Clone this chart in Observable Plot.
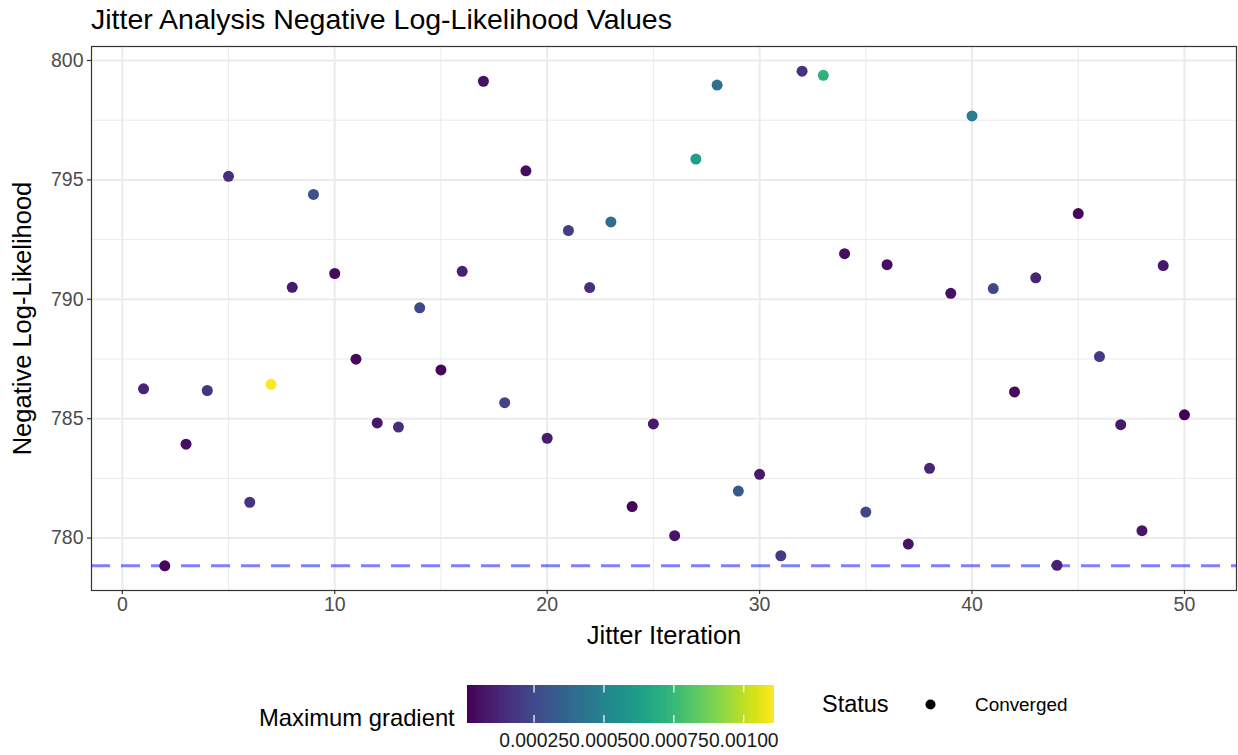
<!DOCTYPE html>
<html>
<head>
<meta charset="utf-8">
<script src="https://cdn.jsdelivr.net/npm/d3@7"></script>
<script src="https://cdn.jsdelivr.net/npm/@observablehq/plot@0.6"></script>
<style>
  body { margin: 0; background: #fff; font-family: "Liberation Sans", Arial, sans-serif; }
  #wrap { position: relative; width: 1238px; height: 755px; overflow: hidden; }
  .abs { position: absolute; white-space: nowrap; line-height: normal; }
</style>
</head>
<body>
<div id="wrap"></div>
<script>
const iteration = [1,2,3,4,5,6,7,8,9,10,11,12,13,14,15,16,17,18,19,20,21,22,23,24,25,26,27,28,29,30,31,32,33,34,35,36,37,38,39,40,41,42,43,44,45,46,47,48,49,50];
const negLogLik = [786.25, 778.84, 783.93, 786.18, 795.15, 781.50, 786.44, 790.50, 794.39, 791.08,
                   787.49, 784.82, 784.65, 789.64, 787.04, 791.17, 799.13, 785.67, 795.38, 784.18,
                   792.88, 790.49, 793.24, 781.32, 784.78, 780.10, 795.87, 798.97, 781.97, 782.67,
                   779.26, 799.55, 799.38, 791.91, 781.09, 791.45, 779.75, 782.92, 790.25, 797.68,
                   790.45, 786.12, 790.90, 778.86, 793.59, 787.60, 784.75, 780.31, 791.41, 785.16];
const maxGradient = [0.000123, 0.000030, 0.000049, 0.000179, 0.000160, 0.000179, 0.001110, 0.000086, 0.000290, 0.000040,
                     0.000040, 0.000077, 0.000150, 0.000250, 0.000030, 0.000114, 0.000058, 0.000234, 0.000049, 0.000095,
                     0.000216, 0.000160, 0.000400, 0.000021, 0.000086, 0.000068, 0.000623, 0.000419, 0.000317, 0.000086,
                     0.000197, 0.000169, 0.000720, 0.000049, 0.000250, 0.000049, 0.000068, 0.000123, 0.000058, 0.000475,
                     0.000243, 0.000040, 0.000123, 0.000105, 0.000030, 0.000188, 0.000086, 0.000068, 0.000077, 0.000012];
const status = iteration.map(() => "Converged");
const xTicks = [0, 10, 20, 30, 40, 50];
const xMinor = [5, 15, 25, 35, 45];
const yTicks = [780, 785, 790, 795, 800];
const yMinor = [782.5, 787.5, 792.5, 797.5];
const gradTicks = [0.00025, 0.0005, 0.00075, 0.001];

const data = iteration.map((d, i) => ({iter: d, nll: negLogLik[i], grad: maxGradient[i], status: status[i]}));
const minNll = d3.min(negLogLik);
const gDomain = d3.extent(maxGradient);
const colorOpts = {type: "linear", scheme: "viridis", domain: gDomain};

const xPad = (d3.max(iteration) - d3.min(iteration)) * 0.05;
const yPad = (d3.max(negLogLik) - d3.min(negLogLik)) * 0.05;

const FONT = "Liberation Sans, Arial, sans-serif";
const wrap = document.getElementById("wrap");

const main = Plot.plot({
  width: 1238,
  height: 660,
  marginLeft: 91,
  marginRight: 2,
  marginTop: 46,
  marginBottom: 70,
  style: {fontFamily: FONT, background: "white"},
  x: {domain: [d3.min(iteration) - xPad, d3.max(iteration) + xPad]},
  y: {domain: [d3.min(negLogLik) - yPad, d3.max(negLogLik) + yPad]},
  color: colorOpts,
  marks: [
    Plot.gridX(xMinor, {stroke: "#EBEBEB", strokeOpacity: 1, strokeWidth: 1}),
    Plot.gridY(yMinor, {stroke: "#EBEBEB", strokeOpacity: 1, strokeWidth: 1}),
    Plot.gridX(xTicks, {stroke: "#EBEBEB", strokeOpacity: 1, strokeWidth: 2}),
    Plot.gridY(yTicks, {stroke: "#EBEBEB", strokeOpacity: 1, strokeWidth: 2}),
    Plot.ruleY([minNll], {stroke: "blue", strokeOpacity: 0.5, strokeWidth: 3, strokeDasharray: "19,11"}),
    Plot.dot(data, {x: "iter", y: "nll", fill: "grad", r: 5.5, stroke: "none"}),
    Plot.frame({stroke: "#333333", strokeWidth: 1.2}),
    Plot.axisX(xTicks, {label: null, tickSize: 4, tickPadding: 3, fontSize: 19.5, color: "#4D4D4D", stroke: "#333333", strokeWidth: 1.2}),
    Plot.axisY(yTicks, {label: null, tickSize: 4, tickPadding: 4, fontSize: 19.5, color: "#4D4D4D", stroke: "#333333", strokeWidth: 1.2}),
    Plot.text(["Jitter Iteration"], {frameAnchor: "bottom", dy: 45, fontSize: 25.5, fill: "black", lineAnchor: "middle", textAnchor: "middle"}),
    Plot.text(["Negative Log-Likelihood"], {frameAnchor: "left", dx: -69, rotate: -90, fontSize: 25.5, fill: "black", lineAnchor: "middle", textAnchor: "middle"})
  ]
});
main.style.position = "absolute";
main.style.left = "0px";
main.style.top = "0px";
wrap.appendChild(main);

// Title
const title = document.createElement("div");
title.className = "abs";
title.textContent = "Jitter Analysis Negative Log-Likelihood Values";
title.style.cssText += "left:91px; top:3px; font-size:28.5px; color:#000;";
wrap.appendChild(title);

// Color bar legend (drawn with Plot using the same color scale)
const N = 150;
const stepW = (gDomain[1] - gDomain[0]) / N;
const steps = d3.range(0, N).map(i => gDomain[0] + stepW * i);
const bar = Plot.plot({
  width: 307,
  height: 75,
  marginLeft: 0,
  marginRight: 0,
  marginTop: 0,
  marginBottom: 37.5,
  style: {fontFamily: FONT, background: "transparent", overflow: "visible"},
  x: {domain: gDomain},
  y: {domain: [0, 1], axis: null},
  color: colorOpts,
  marks: [
    Plot.rect(steps, {x1: d => d, x2: d => Math.min(gDomain[1], d + stepW * 2), y1: 0, y2: 1, fill: d => d + stepW / 2, shapeRendering: "crispEdges"}),
    Plot.ruleX(gradTicks, {y1: 0, y2: 0.2, stroke: "white", strokeWidth: 1.2}),
    Plot.ruleX(gradTicks, {y1: 0.8, y2: 1, stroke: "white", strokeWidth: 1.2}),
    Plot.axisX(gradTicks, {tickSize: 0, tickPadding: 10, fontSize: 19.3, color: "#1A1A1A", tickFormat: d3.format(".5f"), label: null})
  ]
});
bar.style.position = "absolute";
bar.style.left = "467px";
bar.style.top = "685px";
wrap.appendChild(bar);

const gTitle = document.createElement("div");
gTitle.className = "abs";
gTitle.textContent = "Maximum gradient";
gTitle.style.cssText += "left:259px; top:704px; font-size:23.8px; color:#000;";
wrap.appendChild(gTitle);

// Status legend (shape)
const sTitle = document.createElement("div");
sTitle.className = "abs";
sTitle.textContent = "Status";
sTitle.style.cssText += "left:822px; top:691px; font-size:23.5px; color:#000;";
wrap.appendChild(sTitle);

const sKey = Plot.plot({
  width: 30, height: 30, margin: 0,
  style: {background: "transparent"},
  x: {domain: [0, 1], axis: null},
  y: {domain: [0, 1], axis: null},
  marks: [Plot.dot([status[0]], {frameAnchor: "middle", r: 5, fill: "black"})]
});
sKey.style.position = "absolute";
sKey.style.left = "915px";
sKey.style.top = "689px";
wrap.appendChild(sKey);

const sLab = document.createElement("div");
sLab.className = "abs";
sLab.textContent = status[0];
sLab.style.cssText += "left:975px; top:694px; font-size:18.9px; color:#000;";
wrap.appendChild(sLab);
</script>
</body>
</html>
